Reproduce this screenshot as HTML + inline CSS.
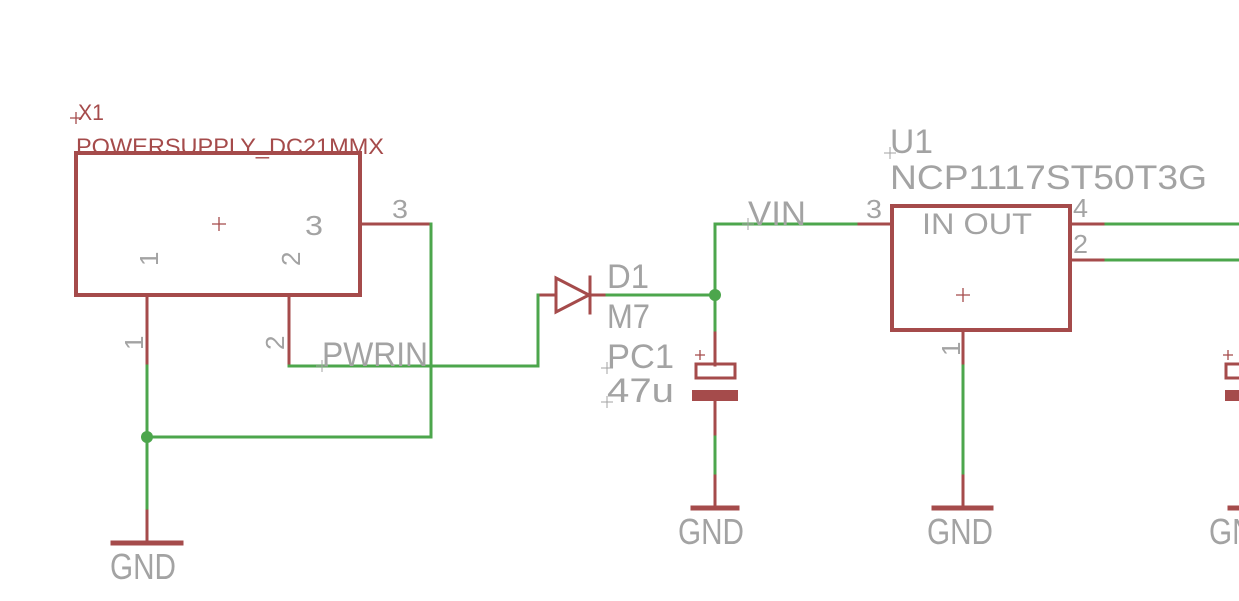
<!DOCTYPE html>
<html><head><meta charset="utf-8"><style>
html,body{margin:0;padding:0;background:#fff;width:1239px;height:601px;overflow:hidden}
svg{display:block}
text{font-family:"Liberation Sans",sans-serif;fill:#a3a3a3}
.r{fill:#a54b4b}
</style></head><body>
<svg width="1239" height="601" viewBox="0 0 1239 601" xmlns="http://www.w3.org/2000/svg">
<g fill="none" stroke-linecap="square">
<!-- X1 box -->
<rect x="76" y="153" width="284" height="142" stroke="#a54b4b" stroke-width="4"/>
<g stroke="#a54b4b" stroke-width="3">
<line x1="147" y1="295" x2="147" y2="366"/>
<line x1="289" y1="295" x2="289" y2="366"/>
<line x1="360" y1="224" x2="431" y2="224"/>
<line x1="147" y1="508" x2="147" y2="543"/>
<line x1="538" y1="295" x2="555" y2="295"/>
<line x1="590" y1="295" x2="607" y2="295"/>
<line x1="715" y1="330" x2="715" y2="365"/>
<line x1="715" y1="401" x2="715" y2="437"/>
<line x1="715" y1="473" x2="715" y2="508"/>
<line x1="856" y1="224" x2="892" y2="224"/>
<line x1="1070" y1="224" x2="1106" y2="224"/>
<line x1="1070" y1="260" x2="1106" y2="260"/>
<line x1="963" y1="330" x2="963" y2="366"/>
<line x1="963" y1="473" x2="963" y2="508"/>
</g>
<g stroke="#a54b4b" stroke-width="5">
<line x1="113" y1="543" x2="181" y2="543"/>
<line x1="693" y1="508" x2="737" y2="508"/>
<line x1="934" y1="508" x2="991" y2="508"/>
<line x1="1230" y1="508" x2="1239" y2="508"/>
</g>
<!-- diode -->
<polygon points="556,278 556,312 589,295" stroke="#a54b4b" stroke-width="3"/>
<line x1="590" y1="277" x2="590" y2="313" stroke="#a54b4b" stroke-width="3"/>
<!-- caps -->
<rect x="696" y="364" width="39" height="14" stroke="#a54b4b" stroke-width="3"/>
<rect x="1226" y="364" width="20" height="14" stroke="#a54b4b" stroke-width="3"/>
<!-- U1 -->
<rect x="892" y="206" width="178" height="124" stroke="#a54b4b" stroke-width="4"/>
<!-- nets -->
<g stroke="#4ca64c" stroke-width="3">
<polyline points="147,366 147,508"/>
<polyline points="147,437 431,437 431,224"/>
<polyline points="289,366 538,366 538,295"/>
<polyline points="607,295 715,295 715,330"/>
<polyline points="715,295 715,224 856,224"/>
<polyline points="715,437 715,473"/>
<polyline points="1106,224 1239,224"/>
<polyline points="1106,260 1239,260"/>
<polyline points="963,366 963,473"/>
</g>
</g>
<rect x="692" y="390" width="46" height="11" fill="#a54b4b"/>
<rect x="1225" y="390" width="14" height="11" fill="#a54b4b"/>
<circle cx="147" cy="437" r="6" fill="#4ca64c"/>
<circle cx="715" cy="295" r="6" fill="#4ca64c"/>
<g stroke="#a54b4b" stroke-width="1.3">
<path d="M212 224h14M219 217v14M956 295h14M963 288v14M695 355h10M700 350v10M1223 355h10M1228 350v10"/>
<path d="M70 118h12M76 112v12"/>
</g>
<g stroke="#a3a3a3" stroke-width="1">
<path d="M316 366h12M322 360v12M742 224h12M748 218v12M601 368h12M607 362v12M601 402h12M607 396v12M884 153h12M890 147v12"/>
</g>
<!-- labels -->
<text class="r" x="78" y="120" font-size="22" textLength="26" lengthAdjust="spacingAndGlyphs">X1</text>
<text class="r" x="76" y="154" font-size="22" textLength="308" lengthAdjust="spacingAndGlyphs">POWERSUPPLY_DC21MMX</text>
<text x="305" y="235" font-size="28" textLength="18" lengthAdjust="spacingAndGlyphs">3</text>
<text x="392" y="218" font-size="26" textLength="16" lengthAdjust="spacingAndGlyphs">3</text>
<text transform="translate(158,266) rotate(-90)" font-size="26">1</text>
<text transform="translate(300,266) rotate(-90)" font-size="26">2</text>
<text transform="translate(143,350) rotate(-90)" font-size="26">1</text>
<text transform="translate(284,350) rotate(-90)" font-size="26">2</text>
<text transform="translate(960,356) rotate(-90)" font-size="26">1</text>
<text x="322" y="366" font-size="34" textLength="106" lengthAdjust="spacingAndGlyphs">PWRIN</text>
<text x="607" y="288" font-size="34" textLength="42" lengthAdjust="spacingAndGlyphs">D1</text>
<text x="607" y="328" font-size="34" textLength="43" lengthAdjust="spacingAndGlyphs">M7</text>
<text x="607" y="368" font-size="34" textLength="67" lengthAdjust="spacingAndGlyphs">PC1</text>
<text x="607" y="402" font-size="34" textLength="67" lengthAdjust="spacingAndGlyphs">47u</text>
<text x="748" y="225" font-size="34" textLength="58" lengthAdjust="spacingAndGlyphs">VIN</text>
<text x="866" y="218" font-size="26" textLength="16" lengthAdjust="spacingAndGlyphs">3</text>
<text x="890" y="153" font-size="34" textLength="43" lengthAdjust="spacingAndGlyphs">U1</text>
<text x="890" y="189" font-size="34" textLength="317" lengthAdjust="spacingAndGlyphs">NCP1117ST50T3G</text>
<text x="922" y="234" font-size="30" textLength="110" lengthAdjust="spacingAndGlyphs">IN OUT</text>
<text x="1073" y="217" font-size="26" textLength="15" lengthAdjust="spacingAndGlyphs">4</text>
<text x="1073" y="253" font-size="26" textLength="15" lengthAdjust="spacingAndGlyphs">2</text>
<text x="110" y="579" font-size="36" textLength="66" lengthAdjust="spacingAndGlyphs">GND</text>
<text x="678" y="544" font-size="36" textLength="66" lengthAdjust="spacingAndGlyphs">GND</text>
<text x="927" y="544" font-size="36" textLength="66" lengthAdjust="spacingAndGlyphs">GND</text>
<text x="1209" y="544" font-size="36" textLength="66" lengthAdjust="spacingAndGlyphs">GND</text>
</svg>
</body></html>
